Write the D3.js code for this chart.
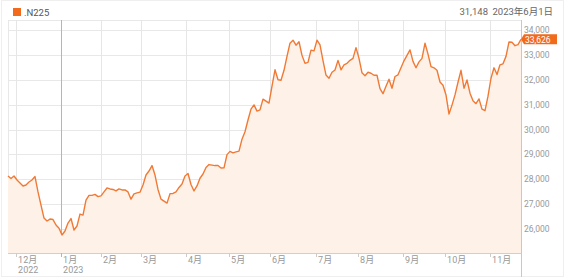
<!DOCTYPE html>
<html>
<head>
<meta charset="utf-8">
<script src="https://cdn.jsdelivr.net/npm/d3@7"></script>
<style>
  body { margin: 0; background: #fff; }
  svg text { font-family: Roboto, "Noto Sans CJK JP", sans-serif; }
</style>
</head>
<body>
<div id="chart"></div>
<script>
// Nikkei 225 closes (roughly every 1.5 trading days)
var closes = [
  28130, 28030, 28130, 27970, 27850, 27730, 27770, 27890, 27970, 28110,
  27490, 26960, 26440, 26320, 26400, 26380, 26160, 26030, 25760, 25920,
  26240, 26420, 25960, 26120, 26600, 26560, 27160, 27350, 27350, 27390,
  27300, 27330, 27490, 27650, 27610, 27590, 27530, 27610, 27570, 27570,
  27490, 27200, 27410, 27450, 27480, 27770, 28170, 28330, 28550, 28170,
  27590, 27200, 27120, 27040, 27420, 27430, 27490, 27670, 27810, 28130,
  28230, 27790, 27530, 27730, 28040, 28210, 28470, 28590, 28570, 28550,
  28550, 28450, 28460, 28990, 29120, 29060, 29100, 29130, 29610, 29910,
  30380, 30820, 30990, 30740, 30790, 31220, 31140, 31060, 31740, 32400,
  32000, 31980, 32380, 32940, 33470, 33590, 33390, 33530, 32980, 32660,
  32700, 33190, 33160, 33590, 33400, 32770, 32190, 32060, 32300, 32390,
  32780, 32400, 32600, 32660, 32780, 32860, 33290, 32860, 32280, 32160,
  32300, 32260, 32180, 32180, 31640, 31440, 31740, 32020, 31660, 32130,
  32200, 32480, 32760, 32980, 33200, 32740, 32480, 32720, 32860, 33470,
  33030, 32530, 32480, 32380, 31910, 31780, 31390, 30620, 30980, 31390,
  31900, 32380, 31660, 31990, 31460, 31160, 31040, 31230, 30820, 30760,
  31340, 32060, 32480, 32210, 32600, 32640, 32940, 33520, 33510, 33370,
  33410, 33626
];

// where each month starts, in units of the closes index
var monthPos = [2.7, 17.7, 31, 44.3, 59.3, 73.7, 87.3, 102.7, 116.7, 131.7, 145.7, 160.7];
var monthLabels = ["12月", "1月", "2月", "3月", "4月", "5月", "6月", "7月", "8月", "9月", "10月", "11月"];
var yearLabels = ["2022", "2023", "", "", "", "", "", "", "", "", "", ""];

var yTicks = [26000, 27000, 28000, 29000, 30000, 31000, 32000, 33000, 34000];

var seriesName = ".N225";
var hoverValue = "31,148";
var hoverDate = "2023年6月1日";

var W = 567, H = 279;
var plot = { left: 8, right: 521, top: 20, bottom: 253 };

var orange = "#f07a35";
var fillCol = "#fef1e7";

var svg = d3.select("#chart").append("svg")
  .attr("width", W)
  .attr("height", H);

// card border
svg.append("rect")
  .attr("x", 1.5).attr("y", 0.5)
  .attr("width", 562).attr("height", 276)
  .attr("fill", "#fff")
  .attr("stroke", "#efefef");

var x = d3.scaleLinear()
  .domain([0, closes.length - 1])
  .range([plot.left, plot.right]);

var y = d3.scaleLinear()
  .domain([26000, 34000])
  .range([229, 30]);

// horizontal grid
svg.append("g")
  .selectAll("line")
  .data(yTicks)
  .enter().append("line")
  .attr("x1", plot.left).attr("x2", plot.right)
  .attr("y1", function(d) { return Math.round(y(d)) + 0.5; })
  .attr("y2", function(d) { return Math.round(y(d)) + 0.5; })
  .attr("stroke", "#e8e8e8");

// top and left border
svg.append("line")
  .attr("x1", plot.left).attr("x2", plot.right)
  .attr("y1", plot.top + 0.5).attr("y2", plot.top + 0.5)
  .attr("stroke", "#e8e8e8");
svg.append("line")
  .attr("x1", plot.left + 0.5).attr("x2", plot.left + 0.5)
  .attr("y1", plot.top).attr("y2", plot.bottom)
  .attr("stroke", "#e8e8e8");

// vertical month grid, under the fill
svg.append("g")
  .selectAll("line")
  .data(monthPos)
  .enter().append("line")
  .attr("x1", function(d) { return Math.round(x(d)) + 0.5; })
  .attr("x2", function(d) { return Math.round(x(d)) + 0.5; })
  .attr("y1", plot.top)
  .attr("y2", plot.bottom)
  .attr("stroke", function(d, i) { return i == 1 ? "#b5b5b5" : "#e6e6e6"; });

// area + line
var area = d3.area()
  .x(function(d, i) { return x(i); })
  .y0(plot.bottom)
  .y1(function(d) { return y(d); });

var line = d3.line()
  .x(function(d, i) { return x(i); })
  .y(function(d) { return y(d); });

svg.append("path")
  .datum(closes)
  .attr("d", area)
  .attr("fill", fillCol);

svg.append("path")
  .datum(closes)
  .attr("d", line)
  .attr("fill", "none")
  .attr("stroke", orange)
  .attr("stroke-width", 1.4)
  .attr("stroke-linejoin", "round");

// bottom and right axis lines
svg.append("line")
  .attr("x1", plot.left).attr("x2", plot.right)
  .attr("y1", plot.bottom + 0.5).attr("y2", plot.bottom + 0.5)
  .attr("stroke", "#d0d0d0");
svg.append("line")
  .attr("x1", plot.right + 0.5).attr("x2", plot.right + 0.5)
  .attr("y1", plot.top).attr("y2", H - 2)
  .attr("stroke", "#c8c8c8");

// month ticks below axis
svg.append("g")
  .selectAll("line")
  .data(monthPos)
  .enter().append("line")
  .attr("x1", function(d) { return Math.round(x(d)) + 0.5; })
  .attr("x2", function(d) { return Math.round(x(d)) + 0.5; })
  .attr("y1", plot.bottom)
  .attr("y2", plot.bottom + 4)
  .attr("stroke", function(d, i) { return i == 1 ? "#b5b5b5" : "#ccc"; });

// month labels
svg.append("g")
  .selectAll("text")
  .data(monthPos)
  .enter().append("text")
  .attr("x", function(d) { return x(d) + 2; })
  .attr("y", 263)
  .attr("font-size", 9)
  .attr("fill", "#999")
  .text(function(d, i) { return monthLabels[i]; });

svg.append("g")
  .selectAll("text")
  .data(monthPos)
  .enter().append("text")
  .attr("x", function(d) { return x(d) + 2; })
  .attr("y", 273)
  .attr("font-size", 9)
  .attr("fill", "#999")
  .text(function(d, i) { return yearLabels[i]; });

// y labels on the right
svg.append("g")
  .selectAll("text")
  .data(yTicks)
  .enter().append("text")
  .attr("x", plot.right + 3)
  .attr("y", function(d) { return y(d) + 3; })
  .attr("font-size", 8.5)
  .attr("fill", "#999")
  .text(function(d) { return d3.format(",")(d); });

// last value flag
var last = closes[closes.length - 1];
var ly = y(last);
svg.append("path")
  .attr("d", "M" + plot.right + "," + ly + "l3,-5h33v10h-33z")
  .attr("fill", "#f26b1d");
svg.append("text")
  .attr("x", plot.right + 4)
  .attr("y", ly + 3.2)
  .attr("font-size", 8.5)
  .attr("fill", "#fff")
  .text(d3.format(",")(last));

// legend
svg.append("rect")
  .attr("x", 13).attr("y", 8)
  .attr("width", 8).attr("height", 8)
  .attr("fill", "#f26b1d");
svg.append("text")
  .attr("x", 24).attr("y", 15.5)
  .attr("font-size", 9.5)
  .attr("fill", "#555")
  .text(seriesName);

// header readout
svg.append("text")
  .attr("x", 488).attr("y", 15)
  .attr("text-anchor", "end")
  .attr("font-size", 9.5)
  .attr("fill", "#666")
  .text(hoverValue);
svg.append("text")
  .attr("x", 553).attr("y", 15)
  .attr("text-anchor", "end")
  .attr("font-size", 9.5)
  .attr("fill", "#666")
  .text(hoverDate);
</script>
</body>
</html>
